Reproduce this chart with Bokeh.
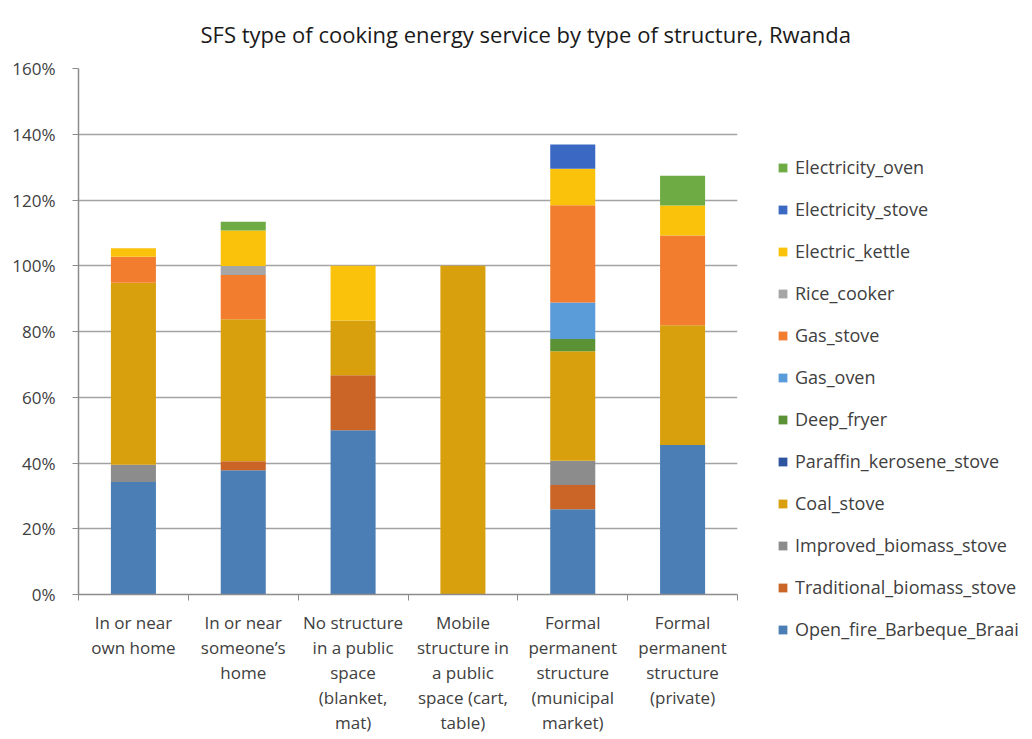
from bokeh.plotting import figure
from bokeh.models import (ColumnDataSource, Range1d, FixedTicker, Legend, LegendItem)
from bokeh.embed import file_html
from bokeh.resources import INLINE

categories = [
    "In or near\nown home",
    "In or near\nsomeone\u2019s\nhome",
    "No structure\nin a public\nspace\n(blanket,\nmat)",
    "Mobile\nstructure in\na public\nspace (cart,\ntable)",
    "Formal\npermanent\nstructure\n(municipal\nmarket)",
    "Formal\npermanent\nstructure\n(private)",
]

series_names = [
    "Open_fire_Barbeque_Braai", "Traditional_biomass_stove", "Improved_biomass_stove",
    "Coal_stove", "Paraffin_kerosene_stove", "Deep_fryer", "Gas_oven", "Gas_stove",
    "Rice_cooker", "Electric_kettle", "Electricity_stove", "Electricity_oven",
]

open_fire = [34.2, 37.8, 50.0, 0, 25.9, 45.5]
traditional_biomass = [0, 2.7, 16.67, 0, 7.4, 0]
improved_biomass = [5.3, 0, 0, 0, 7.4, 0]
coal_stove = [55.3, 43.2, 16.67, 100, 33.3, 36.4]
paraffin_kerosene = [0, 0, 0, 0, 0, 0]
deep_fryer = [0, 0, 0, 0, 3.7, 0]
gas_oven = [0, 0, 0, 0, 11.1, 0]
gas_stove = [7.9, 13.5, 0, 0, 29.6, 27.3]
rice_cooker = [0, 2.7, 0, 0, 0, 0]
electric_kettle = [2.6, 10.8, 16.67, 0, 11.1, 9.1]
electricity_stove = [0, 0, 0, 0, 7.4, 0]
electricity_oven = [0, 2.7, 0, 0, 0, 9.1]

y_ticks = [0, 20, 40, 60, 80, 100, 120, 140, 160]

colors = ["#4A7EB4", "#CA6427", "#8C8C8C", "#D9A00E", "#2E54A0", "#5B9236",
          "#5A9BD9", "#F27D2E", "#A6A6A6", "#FBC20C", "#3A68C2", "#6EAB45"]

values = [open_fire, traditional_biomass, improved_biomass, coal_stove, paraffin_kerosene,
          deep_fryer, gas_oven, gas_stove, rice_cooker, electric_kettle,
          electricity_stove, electricity_oven]

n_cat = len(categories)
centers = [i + 0.5 for i in range(n_cat)]
bounds = list(range(n_cat + 1))

data = {"x": centers}
for name, vals in zip(series_names, values):
    data[name] = vals
source = ColumnDataSource(data)

FONT = "Open Sans"
TXT = "#404040"
GRID = "#A3A3A3"
AX = "#8C8C8C"

p = figure(frame_width=659, frame_height=526, output_backend="svg", toolbar_location=None,
           x_range=Range1d(0, n_cat), y_range=Range1d(0, 160),
           min_border_left=78, min_border_right=295, min_border_top=68, min_border_bottom=145,
           title="SFS type of cooking energy service by type of structure, Rwanda")
p.outline_line_color = None
p.title.text_font = FONT
p.title.text_font_size = "22px"
p.title.text_font_style = "normal"
p.title.text_color = "#1A1A1A"
p.title.align = "left"
p.title.offset = 122
p.title.vertical_align = "top"
p.title.standoff = 36

renderers = p.vbar_stack(series_names, x="x", width=0.41, source=source,
                         fill_color=colors, line_color=None)

# y axis
yax = p.yaxis[0]
yax.ticker = FixedTicker(ticks=y_ticks)
yax.major_label_overrides = {t: f"{t}%" for t in y_ticks}
yax.minor_tick_line_color = None
yax.major_tick_out = 6
yax.major_tick_in = 0
yax.major_tick_line_color = AX
yax.axis_line_color = AX
yax.axis_line_width = 1.5
yax.major_label_standoff = 17
yax.major_label_text_font = FONT
yax.major_label_text_font_size = "17px"
yax.major_label_text_color = TXT

p.ygrid.ticker = FixedTicker(ticks=y_ticks)
p.ygrid.grid_line_color = GRID
p.ygrid.grid_line_width = 1.6
p.xgrid.grid_line_color = None

# x axis: labels at category centres, boundary ticks as minor ticks
xax = p.xaxis[0]
xax.ticker = FixedTicker(ticks=centers, minor_ticks=bounds)
xax.major_label_overrides = {c: lab for c, lab in zip(centers, categories)}
xax.axis_line_color = AX
xax.axis_line_width = 1.5
xax.major_tick_line_color = None
xax.major_tick_out = 0
xax.major_tick_in = 0
xax.minor_tick_line_color = AX
xax.minor_tick_out = 6
xax.minor_tick_in = 0
xax.major_label_standoff = 10
xax.major_label_text_font = FONT
xax.major_label_text_font_size = "17px"
xax.major_label_text_color = TXT
xax.major_label_text_line_height = 1.09

items = [LegendItem(label=n, renderers=[r]) for n, r in zip(series_names, renderers)][::-1]
legend = Legend(items=items, location=(40, -47))
legend.border_line_color = None
legend.background_fill_alpha = 0
legend.padding = 0
legend.margin = 0
legend.spacing = 18
legend.label_height = 20
legend.glyph_height = 11
legend.glyph_width = 11
legend.label_standoff = 7
legend.label_text_font = FONT
legend.label_text_font_size = "18px"
legend.label_text_color = TXT
p.add_layout(legend, "right")

open("out.html", "w").write(file_html(p, INLINE))
